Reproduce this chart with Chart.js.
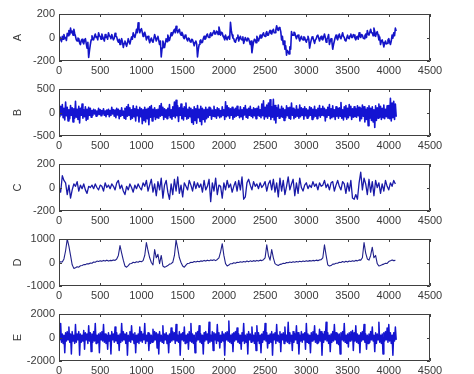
<!DOCTYPE html>
<html>
<head>
<meta charset="utf-8">
<script src="https://cdn.jsdelivr.net/npm/chart.js@4"></script>
<style>
html,body{margin:0;padding:0;background:#fff;width:474px;height:374px;overflow:hidden;}
canvas{position:absolute;left:0;}
</style>
</head>
<body>
<script>
// sample spacing of the stored values (samples)
const STEP_FINE = 10;
const STEP_COARSE = 20;
const xTicks = [0,500,1000,1500,2000,2500,3000,3500,4000,4500];

const seriesA = [
-20,5,-10,-35,10,-15,25,-5,0,-25,35,15,60,25,80,40,55,20,70,35,
10,-20,-30,-5,-10,-45,-60,-25,-15,-40,-55,-20,-10,-50,-90,-40,-170,-110,-60,-20,
15,-15,-20,10,30,0,5,-20,40,15,10,-15,30,5,-10,-30,25,0,10,-15,
40,15,10,-10,25,0,-20,-5,35,10,5,-25,-40,-15,-60,-30,-10,-40,-85,-50,
-30,-55,-75,-45,-10,-35,-55,-25,5,-15,40,15,0,30,70,40,125,80,40,65,
75,45,10,30,45,20,-20,5,10,-15,-45,-20,-5,-30,-40,-10,25,0,-30,-5,
10,-25,-60,-30,-165,-90,-30,-60,-85,-45,-10,-35,20,-5,-25,5,40,15,30,55,
70,40,95,65,40,60,70,35,20,45,30,0,-10,20,10,-15,-30,-5,-10,-35,
-40,-15,-20,-45,-70,-40,-30,-55,-165,-100,-60,-30,-20,-45,-40,-10,10,-15,-10,20,
30,5,0,25,40,15,20,45,60,30,30,55,50,25,90,60,20,45,40,10,
0,-20,20,-5,-20,5,10,-15,130,60,20,-5,-10,-35,-40,-15,0,20,-30,-5,
10,-15,-20,5,-50,-25,0,-20,-30,-5,-10,-35,-60,-30,-130,-80,-40,-15,-20,-45,
10,-15,-30,-5,20,-5,0,25,40,15,10,35,50,20,20,45,60,35,30,55,
70,40,40,65,100,70,60,85,80,50,-20,10,-60,-30,-100,-70,-150,-110,-120,-140,
-80,-100,50,20,20,45,40,10,-10,15,20,-5,-30,-5,10,-15,-20,5,0,-25,
-40,-15,10,-15,-90,-50,-20,5,0,-25,-50,-20,-10,15,20,-5,-30,-5,10,-15,
-20,5,30,0,-40,-15,0,25,-60,-30,-10,-35,-100,-60,-30,0,20,-5,-20,10,
30,0,-10,15,40,10,0,-25,-30,-5,20,-5,-10,15,30,0,0,25,20,-5,
-20,5,10,-15,40,10,0,25,20,-5,-10,15,30,0,60,30,20,45,70,40,
40,15,80,50,10,35,50,20,-20,5,-60,-30,-20,-45,-80,-50,-30,-55,-50,-20,
-10,-40,-60,-30,20,-5,40,15,80,55
];

const seriesB = [
60,-90,130,-50,170,-110,90,-160,220,-70,110,-180,60,-130,150,-60,100,-200,80,-120,
240,-100,70,-150,130,-220,90,-60,180,-120,60,-90,120,-170,70,-140,110,-60,90,-100,
40,-60,70,-30,50,-80,30,-50,90,-40,60,-70,40,-30,80,-60,30,-90,50,-40,
70,-90,40,-60,110,-30,60,-80,50,-110,90,-50,70,-130,40,-80,100,-60,30,-120,
90,-140,120,-80,170,-60,100,-150,60,-120,140,-90,80,-180,130,-70,60,-200,110,-90,
80,-240,60,-170,110,-200,70,-130,90,-260,120,-100,150,-180,70,-90,100,-150,60,-110,
70,-120,140,-80,190,-60,110,-150,80,-100,60,-130,90,-70,170,-110,60,-140,120,-80,
220,-110,260,-70,140,-190,100,-60,180,-130,90,-160,120,-80,200,-140,70,-120,110,-90,
90,-210,60,-250,120,-170,80,-230,150,-110,70,-190,130,-260,90,-150,60,-200,110,-130,
70,-100,110,-60,90,-140,50,-80,130,-90,60,-120,100,-70,80,-110,40,-90,120,-60,
60,-150,230,-90,140,-70,100,-120,80,-60,110,-140,70,-100,90,-80,130,-60,50,-110,
120,-90,60,-150,100,-50,150,-100,70,-120,90,-60,130,-80,60,-110,100,-70,80,-130,
90,-60,130,-80,60,-110,180,-70,250,-140,110,-90,160,-120,200,-80,270,-150,120,-100,
280,-160,150,-220,100,-80,160,-120,70,-90,130,-100,90,-170,60,-110,140,-70,100,-120,
110,-140,200,-60,90,-130,60,-100,140,-80,70,-120,160,-90,100,-60,80,-140,120,-70,
80,-120,50,-90,120,-60,100,-150,70,-110,130,-80,60,-130,90,-70,150,-100,80,-60,
130,-70,90,-180,60,-100,110,-60,170,-130,80,-110,140,-90,60,-150,120,-80,90,-120,
100,-80,210,-120,60,-160,120,-90,150,-140,90,-110,170,-70,130,-150,80,-100,120,-90,
80,-100,140,-70,110,-180,90,-130,160,-80,120,-200,70,-150,100,-280,140,-120,90,-170,
120,-200,60,-320,140,-170,100,-120,180,-100,130,-150,90,-110,160,-130,70,-90,140,-120,
150,-130,300,-180,200,-110,240,-150,180,-90
];

const seriesC = [
0,-40,100,60,40,-60,20,-90,-20,30,
10,50,-30,20,-10,30,-20,-50,10,0,
20,-10,30,0,-20,20,10,-30,40,0,
20,-10,30,10,-20,40,60,-10,20,-30,
-60,10,-20,30,0,-40,20,-10,30,0,
-20,40,10,60,-30,20,70,-40,30,-70,
50,-20,80,-90,20,60,-40,-100,30,-60,
70,-30,90,-50,20,-80,40,10,-20,60,
20,-30,50,-10,40,0,30,-40,60,-20,
10,70,-120,40,-30,80,-60,20,10,-90,
40,-20,60,0,30,-40,10,50,-30,60,
-20,90,-100,-80,40,70,20,-20,50,10,
30,-10,40,0,20,50,-30,30,60,-20,
70,-40,40,-80,80,-30,60,-60,10,90,
-20,30,70,-70,40,-50,80,0,-30,20,
40,-10,20,0,50,10,30,-20,40,10,
20,60,0,30,-20,40,50,-30,20,60,
10,-20,50,30,-50,40,-30,60,-90,-100,
-60,-100,40,130,-20,80,30,-60,70,-40,
50,-70,60,0,40,-50,30,-30,60,10,
-20,40,10,60,30
];

const seriesD = [
0,30,20,150,500,1000,700,300,-100,-250,
-220,-180,-200,-140,-130,-90,-90,-50,-60,-20,
-30,20,10,60,40,70,50,90,60,100,
60,90,80,110,90,150,300,720,400,100,
-150,-200,-130,-50,-40,10,-10,30,10,50,
30,80,300,850,500,200,0,-100,550,200,
350,-50,300,-150,-200,-170,-130,-70,-50,10,
300,950,600,200,0,-150,-200,-110,-40,-30,
10,0,40,20,50,30,70,50,90,60,
100,70,110,90,120,80,130,200,450,800,
300,-50,-150,-110,-50,-50,-10,-30,10,0,
30,10,40,20,60,30,70,40,80,50,
90,60,100,80,120,200,750,300,100,550,
200,-50,-100,-130,-80,-70,-30,-40,0,-10,
20,0,30,10,40,20,50,30,60,40,
70,50,80,60,90,70,100,80,110,120,
200,750,300,-100,-150,-130,-70,-70,-30,-30,
10,0,40,10,50,20,60,40,70,50,
90,70,110,100,200,850,400,150,100,300,
650,200,300,-50,-150,-130,-90,-70,-30,-40,
40,70,110,80,90
];

const seriesE = [
300,-200,1200,-400,300,-500,200,-1300,400,-300,500,-200,900,-400,300,-1400,500,-300,200,-500,
1100,-400,300,-200,500,-1500,300,-400,200,-300,600,-1000,400,-200,300,-500,1000,-300,400,-1200,
300,-400,500,-300,1200,-500,200,-400,300,-1300,400,-200,500,-300,1100,-400,300,-500,200,-1000,
400,-300,200,-1400,500,-200,300,-400,900,-300,400,-500,200,-1100,300,-400,1200,-300,500,-200,
300,-500,400,-1500,200,-300,500,-400,1000,-200,300,-500,400,-1300,200,-400,300,-500,900,-300,
500,-400,300,-200,1200,-500,200,-300,400,-1100,300,-500,200,-400,700,-300,500,-200,400,-900,
300,-1400,500,-300,200,-400,1000,-500,300,-200,400,-500,200,-1300,300,-400,800,-300,500,-200,
400,-500,1100,-300,200,-400,500,-1500,300,-200,400,-300,900,-500,200,-400,300,-1000,500,-300,
1200,-400,300,-500,200,-1300,400,-300,500,-200,1000,-400,300,-500,200,-1400,400,-300,500,-200,
300,-500,1300,-400,200,-300,500,-1100,400,-200,300,-500,1100,-300,400,-900,200,-400,500,-300,
300,-1500,400,-200,500,-300,1400,-400,200,-500,300,-1200,400,-300,500,-200,800,-400,300,-500,
200,-1000,400,-300,1200,-500,200,-400,300,-1400,500,-200,300,-400,900,-300,200,-500,400,-1100,
1000,-300,400,-500,200,-1300,300,-400,500,-200,1200,-300,400,-900,200,-500,300,-400,500,-1500,
300,-200,400,-500,1100,-300,200,-400,500,-1200,300,-200,400,-500,900,-300,200,-400,1300,-500,
400,-300,200,-1100,500,-400,300,-200,1000,-500,400,-1400,200,-300,500,-400,300,-200,400,-1000,
1200,-400,300,-500,200,-1300,400,-300,500,-200,1000,-400,300,-500,200,-400,700,-300,500,-1500,
300,-400,500,-200,1300,-300,400,-500,200,-1200,300,-400,500,-300,1100,-200,400,-500,300,-600,
300,-1400,400,-200,500,-300,1200,-400,200,-500,300,-800,400,-300,500,-200,600,-1100,400,-300,
1000,-400,300,-500,200,-1300,400,-300,500,-200,1100,-400,300,-1000,200,-500,300,-400,500,-200,
900,-300,200,-1200,400,-500,300,-200,1300,-400,200,-500,300,-1400,400,-300,500,-200,800,-400,
1100,-300,400,-500,200,-1500,400,-300,900,-200
];

const panels = [
  {name:'A', values:seriesA, step:STEP_FINE,   min:-200,  max:200,  tick:200,  width:1.6, color:'#1414c8'},
  {name:'B', values:seriesB, step:STEP_FINE,   min:-500,  max:500,  tick:500,  width:1.6, color:'#1414d2'},
  {name:'C', values:seriesC, step:STEP_COARSE, min:-200,  max:200,  tick:200,  width:1.3, color:'#1a1aa8'},
  {name:'D', values:seriesD, step:STEP_COARSE, min:-1000, max:1000, tick:1000, width:1.1, color:'#20208a'},
  {name:'E', values:seriesE, step:STEP_FINE,   min:-2000, max:2000, tick:2000, width:1.5, color:'#1414d0'}
];

const TEXT = '#3a3a3a';
const FONT = {family:'"Liberation Sans", Arial, sans-serif', size:11};

const framePlugin = {
  id:'frame',
  afterDraw(chart){
    const ctx = chart.ctx, a = chart.chartArea;
    const xs = chart.scales.x, ys = chart.scales.y;
    ctx.save();
    ctx.strokeStyle = '#404040';
    ctx.lineWidth = 1;
    ctx.beginPath();
    ctx.rect(Math.round(a.left)+0.5, Math.round(a.top)+0.5, Math.round(a.right-a.left)-1, Math.round(a.bottom-a.top)-1);
    const L = 3;
    xs.ticks.forEach(t=>{
      const p = Math.round(xs.getPixelForValue(t.value))+0.5;
      ctx.moveTo(p, a.bottom); ctx.lineTo(p, a.bottom-L);
      ctx.moveTo(p, a.top); ctx.lineTo(p, a.top+L);
    });
    ys.ticks.forEach(t=>{
      const p = Math.round(ys.getPixelForValue(t.value))+0.5;
      ctx.moveTo(a.left, p); ctx.lineTo(a.left+L, p);
      ctx.moveTo(a.right, p); ctx.lineTo(a.right-L, p);
    });
    ctx.stroke();
    ctx.restore();
  }
};

panels.forEach((pn, i)=>{
  const c = document.createElement('canvas');
  c.width = 474; c.height = 80;
  c.style.top = (i*75)+'px';
  c.style.zIndex = 10 - i;
  document.body.appendChild(c);
  const pts = pn.values.map((v,k)=>({x:k*pn.step, y:v}));
  new Chart(c, {
    type:'line',
    data:{datasets:[{data:pts, borderColor:pn.color, borderWidth:pn.width, pointRadius:0, tension:0, fill:false, borderJoinStyle:'round'}]},
    options:{
      responsive:false, animation:false, devicePixelRatio:1,
      plugins:{legend:{display:false}, tooltip:{enabled:false}},
      layout:{padding:{top:14, right:44, left:0, bottom:0}},
      scales:{
        x:{type:'linear', min:0, max:4500,
           afterBuildTicks(s){ s.ticks = xTicks.map(v=>({value:v})); },
           ticks:{color:TEXT, font:FONT, padding:3, maxRotation:0, autoSkip:false, callback:v=>String(v)},
           grid:{display:false, drawTicks:false}, border:{display:false},
           afterFit(s){ s.height = 19; }},
        y:{type:'linear', min:pn.min, max:pn.max,
           ticks:{stepSize:pn.tick, color:TEXT, font:FONT, padding:4, callback:v=>String(v)},
           grid:{display:false, drawTicks:false}, border:{display:false},
           title:{display:true, text:pn.name, color:TEXT, font:FONT, padding:{top:11, bottom:0}},
           afterFit(s){ s.width = 59; }}
      }
    },
    plugins:[framePlugin]
  });
});
</script>
</body>
</html>
